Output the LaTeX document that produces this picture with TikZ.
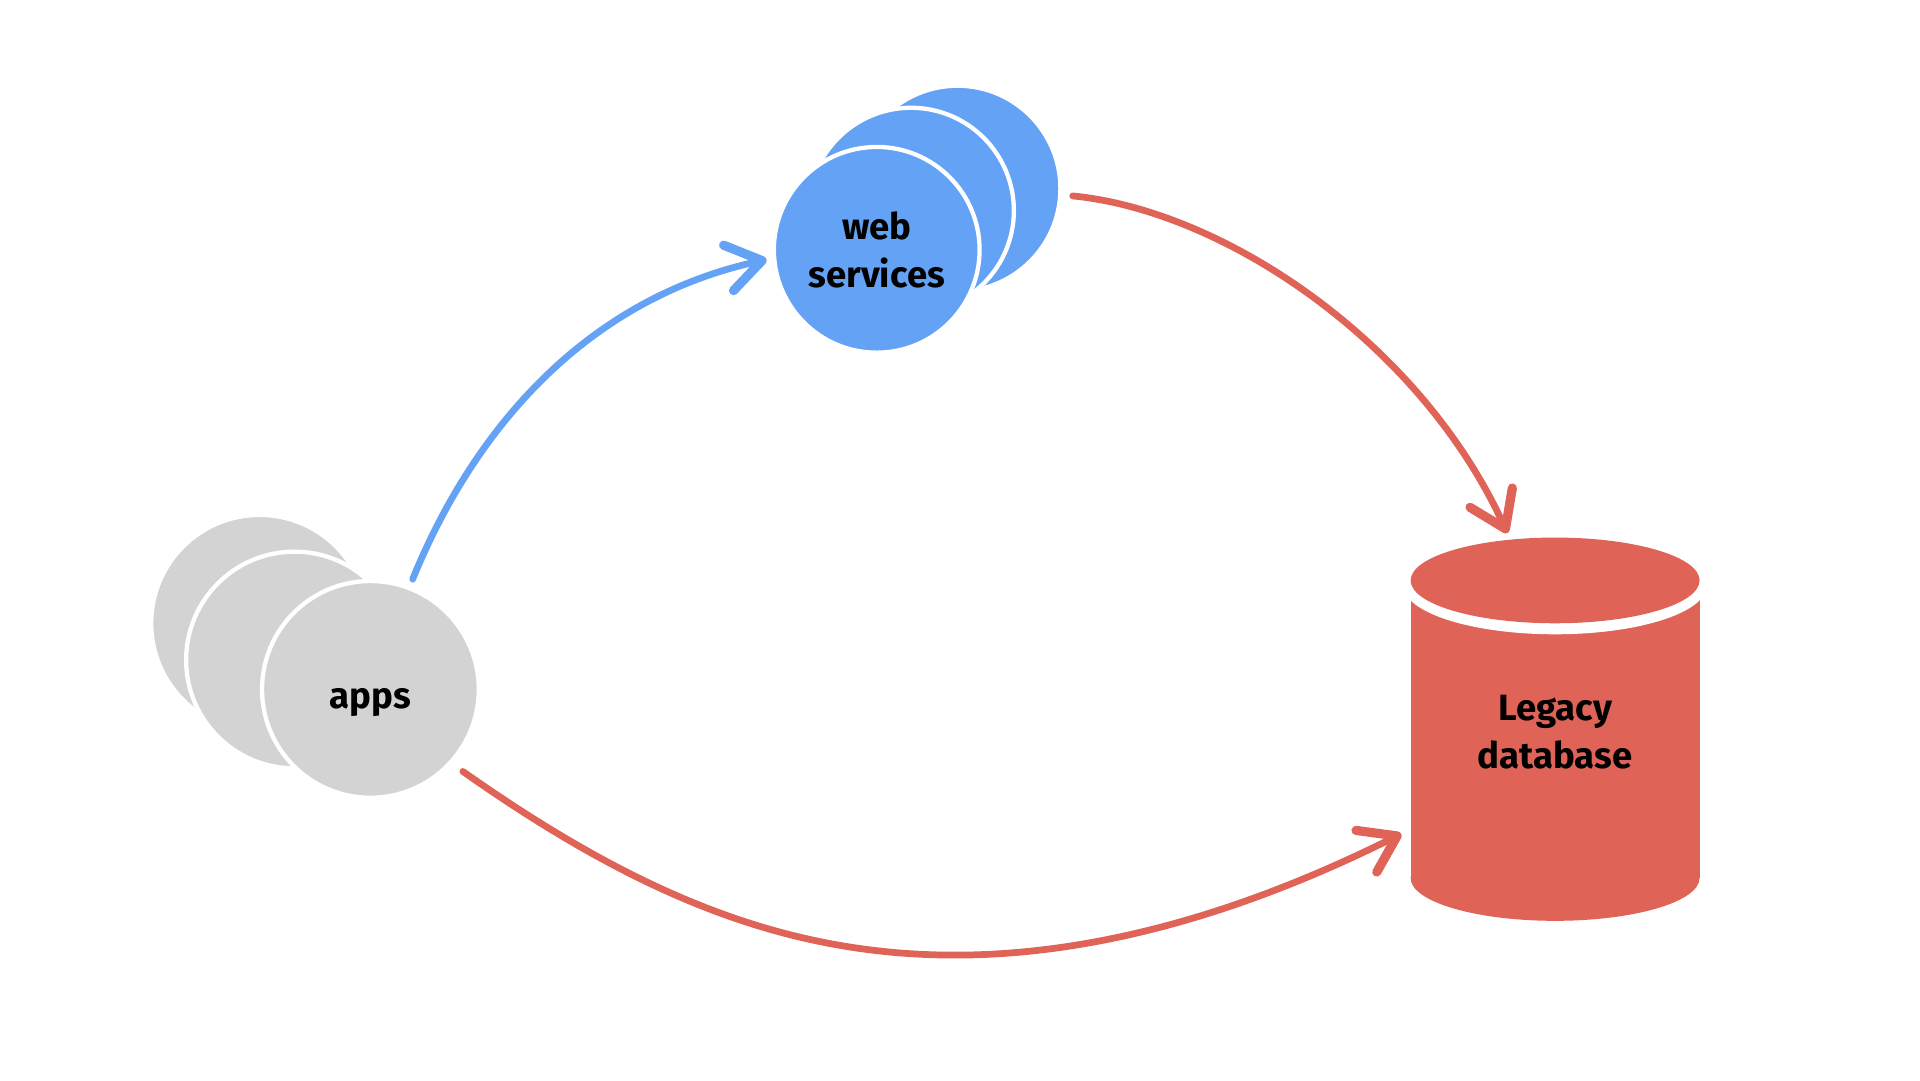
\documentclass[tikz,border=0pt]{standalone}
\usepackage{fontspec}
\setmainfont{Fira Sans}
\usetikzlibrary{arrows.meta,calc}
\definecolor{dbred}{HTML}{E06357}
\definecolor{wsblue}{HTML}{64A2F5}
\definecolor{appgray}{HTML}{D3D3D3}
\tikzset{
  disc/.style={circle, draw=white, line width=0.35mm, inner sep=0pt},
  appdisc/.style={disc, fill=appgray, minimum size=17.7mm},
  wsdisc/.style={disc, fill=wsblue, minimum size=16.8mm},
  lbl/.style={font=\fontsize{8.5pt}{11pt}\selectfont\bfseries, text=black, align=center},
  conn/.style={line width=0.55mm, line cap=round,
    -{Straight Barb[length=2.8mm, width=3.8mm, line width=0.75mm, round]}},
}
\begin{document}
\begin{tikzpicture}[x=0.1mm,y=-0.1mm]
\useasboundingbox (0,0) rectangle (1568,882);
\fill[white] (0,0) rectangle (1568,882);
% apps stack
\node[appdisc] (appsC) at (212,509) {};
\node[appdisc] (appsB) at (240.5,539) {};
\node[appdisc, lbl, text depth=0pt, text height=9pt] (apps) at (302.5,563) {apps};
% web services stack
\node[wsdisc] (wsC) at (782,154) {};
\node[wsdisc] (wsB) at (744,172) {};
\node[wsdisc, lbl] (ws) at (716,204) {web\\services};
% database cylinder
\fill[dbred] (1152,490) rectangle (1388,717);
\fill[dbred] (1270,717) ellipse [x radius=118, y radius=35];
\fill[white] (1270,478) ellipse [x radius=124, y radius=40];
\fill[dbred] (1270,474) ellipse [x radius=118, y radius=35];
\node[lbl, minimum width=23.6mm, minimum height=31.4mm, inner sep=0pt] (db) at (1270,598) {Legacy\\database};
% connectors
\draw[conn, wsblue]
  ($(apps)+(34.5,-90)$) .. controls (385,355) and (475,245) .. ($(ws)+(-90,8)$);
\draw[conn, dbred]
  ($(wsC)+(94,6)$) .. controls (1000,172) and (1160,280) .. ($(db.north)+(-39,-5)$);
\draw[conn, dbred]
  ($(apps)+(75.5,67)$) .. controls (520,730) and (640,780) .. (780,780)
  .. controls (920,780) and (1050,728) .. ($(db.west)+(-7,83)$);
\end{tikzpicture}
\end{document}
